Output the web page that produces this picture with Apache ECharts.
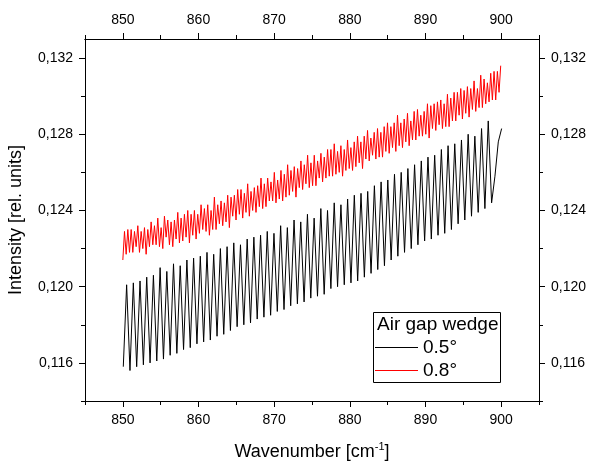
<!DOCTYPE html>
<html>
<head>
<meta charset="utf-8">
<script src="https://cdn.jsdelivr.net/npm/echarts@6/dist/echarts.min.js"></script>
<style>
html,body{margin:0;padding:0;background:#fff;}
#chart{width:592px;height:463px;}
</style>
</head>
<body>
<div id="chart"></div>
<script>
// ---- data ----
const seriesNames = ['0.5°', '0.8°'];
const legendTitle = 'Air gap wedge';

// x ticks
const xMajorTicks = [850, 860, 870, 880, 890, 900];
const xMinorTicks = [845, 855, 865, 875, 885, 895, 905];
// y ticks
const yMajorTicks = [0.116, 0.120, 0.124, 0.128, 0.132];
const yMinorTicks = [0.114, 0.118, 0.122, 0.126, 0.130];

// 0.5° series: sampled at its turning points, starting at blackX0, every blackDX cm-1
const blackX0 = 850.06, blackDX = 0.4425;
const blackY = [
0.1158,
0.1201,0.1156, 0.1202,0.1158, 0.1203,0.1159, 0.1205,0.1160, 0.1206,0.1161,
0.1210,0.1162, 0.1208,0.1164, 0.1212,0.1165, 0.1211,0.1167, 0.1214,0.1168,
0.1215,0.1170, 0.1216,0.1171, 0.1218,0.1172, 0.1217,0.1174, 0.1220,0.1175,
0.1221,0.1177, 0.1223,0.1179, 0.1222,0.1180, 0.1225,0.1181, 0.1226,0.1183,
0.1227,0.1184, 0.1229,0.1185, 0.1228,0.1187, 0.1232,0.1188, 0.1231,0.1190,
0.1235,0.1191, 0.1234,0.1192, 0.1238,0.1194, 0.1236,0.1195, 0.1241,0.1196,
0.1240,0.1199, 0.1244,0.1200, 0.1243,0.1201, 0.1246,0.1202, 0.1248,0.1203,
0.1249,0.1205, 0.1250,0.1207, 0.1253,0.1209, 0.1255,0.1211, 0.1256,0.1214,
0.1259,0.1216, 0.1260,0.1218, 0.1262,0.1220, 0.1264,0.1222, 0.1266,0.1224,
0.1268,0.1225, 0.1269,0.1227, 0.1272,0.1228, 0.1274,0.1230, 0.1275,0.1233,
0.1277,0.1235, 0.1280,0.1237, 0.1279,0.1239, 0.1283,0.1241, 0.1287,0.1244,
0.1258, 0.1276, 0.1283
];

// 0.8° series: sampled at its turning points, starting at redX0, every redDX cm-1
const redX0 = 850.0, redDX = 0.22;
const redY = [
0.1214,0.1229,0.1217,0.1230,0.1218,0.1230,0.1218,0.1229,0.1221,0.1232,
0.1218,0.1229,0.1220,0.1231,0.1217,0.1230,0.1221,0.1234,0.1222,0.1232,
0.1222,0.1236,0.1221,0.1231,0.1220,0.1237,0.1226,0.1235,0.1222,0.1234,
0.1221,0.1235,0.1225,0.1239,0.1223,0.1236,0.1224,0.1238,0.1226,0.1240,
0.1223,0.1238,0.1227,0.1240,0.1225,0.1238,0.1228,0.1243,0.1230,0.1241,
0.1229,0.1243,0.1227,0.1240,0.1230,0.1247,0.1230,0.1243,0.1233,0.1245,
0.1232,0.1244,0.1234,0.1248,0.1231,0.1247,0.1237,0.1248,0.1235,0.1251,
0.1238,0.1251,0.1236,0.1249,0.1239,0.1254,0.1237,0.1250,0.1240,0.1252,
0.1239,0.1253,0.1242,0.1257,0.1241,0.1254,0.1242,0.1257,0.1245,0.1255,
0.1245,0.1260,0.1244,0.1256,0.1246,0.1261,0.1245,0.1259,0.1247,0.1264,
0.1248,0.1261,0.1250,0.1263,0.1247,0.1262,0.1252,0.1266,0.1251,0.1264,
0.1254,0.1269,0.1252,0.1265,0.1253,0.1269,0.1253,0.1266,0.1257,0.1270,
0.1255,0.1268,0.1257,0.1272,0.1258,0.1272,0.1258,0.1275,0.1259,0.1271,
0.1260,0.1274,0.1258,0.1272,0.1261,0.1277,0.1262,0.1273,0.1261,0.1276,
0.1263,0.1279,0.1265,0.1276,0.1262,0.1279,0.1267,0.1282,0.1266,0.1278,
0.1269,0.1281,0.1267,0.1283,0.1268,0.1281,0.1268,0.1284,0.1271,0.1286,
0.1270,0.1284,0.1273,0.1286,0.1271,0.1290,0.1274,0.1286,0.1273,0.1288,
0.1276,0.1291,0.1274,0.1287,0.1277,0.1292,0.1277,0.1293,0.1279,0.1290,
0.1279,0.1292,0.1280,0.1296,0.1278,0.1295,0.1283,0.1296,0.1282,0.1297,
0.1285,0.1298,0.1283,0.1296,0.1284,0.1301,0.1284,0.1299,0.1287,0.1302,
0.1287,0.1302,0.1290,0.1304,0.1288,0.1303,0.1291,0.1305,0.1289,0.1304,
0.1293,0.1308,0.1292,0.1304,0.1294,0.1311,0.1294,0.1309,0.1296,0.1307,
0.1297,0.1312,0.1298,0.1313,0.1298,0.1313,0.1302,0.1316
];

// ---- build ----
const FONT = "'Liberation Sans', Arial, sans-serif";
const blackData = blackY.map((v, i) => [+(blackX0 + i * blackDX).toFixed(4), v]);
const redData = redY.map((v, i) => [+(redX0 + i * redDX).toFixed(4), v]);

const X_MIN = 845, X_MAX = 905, Y_MIN = 0.114, Y_MAX = 0.133;
const lineStyle = { color: '#000', width: 1 };
const fmtY = v => v.toFixed(3).replace('.', ',');

function xAx(pos, major, extra) {
  return Object.assign({
    type: 'value', position: pos, min: X_MIN, max: X_MAX,
    axisLine: { show: true, onZero: false, lineStyle },
    axisTick: { show: true, inside: false, length: major ? 6 : 4, lineStyle,
      customValues: major ? xMajorTicks : xMinorTicks },
    axisLabel: major ? { show: true, customValues: xMajorTicks, margin: 12,
      color: '#000', fontFamily: FONT, fontSize: 14 } : { show: false },
    splitLine: { show: false }
  }, extra || {});
}
function yAx(pos, major, extra) {
  return Object.assign({
    type: 'value', position: pos, min: Y_MIN, max: Y_MAX,
    axisLine: { show: true, onZero: false, lineStyle },
    axisTick: { show: true, inside: false, length: major ? 6 : 4, lineStyle,
      customValues: major ? yMajorTicks : yMinorTicks },
    axisLabel: major ? { show: true, customValues: yMajorTicks, margin: 12,
      color: '#000', fontFamily: FONT, fontSize: 14, formatter: fmtY } : { show: false },
    splitLine: { show: false }
  }, extra || {});
}

const chart = echarts.init(document.getElementById('chart'), null, { renderer: 'canvas' });
chart.setOption({
  animation: false,
  backgroundColor: '#fff',
  grid: { left: 85, right: 53, top: 39, bottom: 62, containLabel: false, outerBoundsMode: 'none' },
  xAxis: [
    xAx('bottom', false),
    xAx('bottom', true, {
      name: 'Wavenumber [cm{sup|-1}]', nameLocation: 'middle', nameGap: 40,
      nameTextStyle: { color: '#000', fontFamily: FONT, fontSize: 18, lineHeight: 22,
        rich: { sup: { fontSize: 11, lineHeight: 22, verticalAlign: 'top', color: '#000', fontFamily: FONT, padding: [0, 0, 8, 0] } } }
    }),
    xAx('top', false),
    xAx('top', true)
  ],
  yAxis: [
    yAx('left', false),
    yAx('left', true, {
      name: 'Intensity [rel. units]', nameLocation: 'middle', nameGap: 60, nameRotate: 90,
      nameTextStyle: { color: '#000', fontFamily: FONT, fontSize: 18 }
    }),
    yAx('right', false),
    yAx('right', true)
  ],
  legend: {
    orient: 'vertical', left: 375, top: 337, padding: 0,
    icon: 'rect', itemWidth: 43, itemHeight: 1, itemGap: 2,
    textStyle: { color: '#000', fontFamily: FONT, fontSize: 19, lineHeight: 21 },
    data: seriesNames
  },
  graphic: [
    { type: 'rect', left: 373, top: 312, shape: { width: 127, height: 70 },
      style: { fill: '#fff', stroke: '#000', lineWidth: 1 }, z: 1 },
    { type: 'text', left: 377, top: 315, z: 2,
      style: { text: legendTitle, fill: '#000', font: "19px 'Liberation Sans', Arial, sans-serif" } }
  ],
  series: [
    { name: seriesNames[0], type: 'line', xAxisIndex: 0, yAxisIndex: 0, data: blackData,
      symbol: 'none', lineStyle: { color: '#000', width: 1 }, itemStyle: { color: '#000' } },
    { name: seriesNames[1], type: 'line', xAxisIndex: 0, yAxisIndex: 0, data: redData,
      symbol: 'none', lineStyle: { color: '#ff0000', width: 1 }, itemStyle: { color: '#ff0000' } }
  ]
});
</script>
</body>
</html>
